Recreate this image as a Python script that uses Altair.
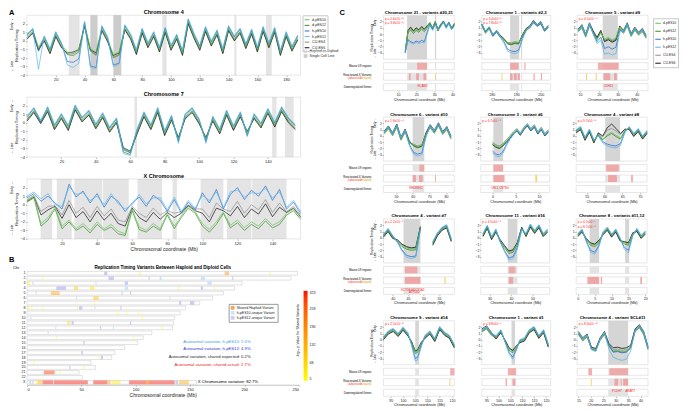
import altair as alt
import pandas as pd

FONT = "Liberation Sans"

SERIES = ["d-pES10", "d-pES12", "h-pES10", "h-pES12", "CU-ES4", "CU-ES6"]
SERIES_COLORS = ["#62c54f", "#3b8a2c", "#2b6fd0", "#5ab7ea", "#8c8c8c", "#111111"]
DRAW_ORDER = ["CU-ES4", "CU-ES6", "d-pES12", "d-pES10", "h-pES10", "h-pES12"]
SHADE_KINDS = ["Haploid vs Diploid", "Single Cell Line"]
B_KINDS = ["Shared Haploid Variant", "h-pES10-unique Variant", "h-pES12-unique Variant"]
B_KIND_COLORS = ["#f7a555", "#cde4f6", "#cccbf2"]

# ---------------- Panel A : whole-chromosome profiles ----------------
A4_X = [0,4,8,12,16,20,24,28,32,36,40,44,48,52,56,60,64,68,72,76,80,84,88,92,
        96,100,104,108,112,116,120,124,128,132,136,140,144,148,152,156,160,164,168,172,176,180,184,188]
A4_D10 = [0.6,1.3,-0.7,0.4,-1.1,0.9,-0.4,-1.3, -1.4,-1.0,2.1,-0.9,-1.3,1.6,0.3,-1.6,
          -1.3,1.7,0.6,-1.2,1.3,-0.4,0.9,-0.9, 1.4,-0.7,0.6,-1.3,2.4,0.7,-0.7,1.5,
          -0.2,1.1,-1.1,1.6,0.4,1.3,-0.5,1.2, -0.9,1.5,-0.4,1.4,-1.3,0.9,-0.8,0.5]
A4_D12 = [0.4,1.1,-0.9,0.2,-1.3,0.7,-0.6,-1.6, -1.7,-1.3,1.9,-1.1,-1.6,1.4,0.1,-1.9,
          -1.6,1.5,0.4,-1.4,1.1,-0.6,0.7,-1.1, 1.2,-0.9,0.4,-1.5,2.2,0.5,-0.9,1.3,
          -0.4,0.9,-1.3,1.4,0.2,1.1,-0.7,1.0, -1.1,1.3,-0.6,1.2,-1.5,0.7,-1.0,0.3]
A4_H10 = [0.7,1.4,-1.2,0.5,-1.0,1.0,-0.3,-2.4, -2.5,-2.1,2.2,-2.9,-3.1,1.7,0.4,-2.8,
          -2.6,1.8,0.7,-1.1,1.4,-0.3,1.0,-0.8, 1.5,-0.6,0.7,-1.2,2.5,0.8,-0.6,1.6,
          -0.1,1.2,-1.0,1.7,0.5,1.4,-0.4,1.3, -0.8,1.6,-0.3,1.5,-1.2,1.0,-0.7,0.6]
A4_H12 = [0.8,1.5,-3.3,0.6,-0.9,1.1,-0.2,-2.8, -3.1,-2.6,2.3,-3.1,-3.2,1.8,0.5,-3.0,
          -2.7,1.9,0.8,-1.0,1.5,-0.2,1.1,-0.7, 1.6,-0.5,0.8,-1.1,2.6,0.9,-0.5,1.7,
          0.0,1.3,-0.9,1.8,0.6,1.5,-0.3,1.4, -0.7,1.7,-0.2,1.6,-1.1,1.1,-0.6,0.7]
A4_CU4 = [0.3,1.0,-1.0,0.1,-1.4,0.6,-0.7,-1.5, -1.5,-1.1,1.8,-1.2,-1.7,1.3,0.0,-2.0,
          -1.7,1.4,0.3,-1.5,1.0,-0.7,0.6,-1.2, 1.1,-1.0,0.3,-1.6,2.1,0.4,-1.0,1.2,
          -0.5,0.8,-1.4,1.3,0.1,1.0,-0.8,0.9, -1.2,1.2,-0.7,1.1,-1.6,0.6,-1.1,0.2]
A4_CU6 = [0.2,0.9,-1.1,0.0,-1.5,0.5,-0.8,-1.4, -1.3,-1.0,1.7,-1.0,-1.4,1.2,-0.1,-1.7,
          -1.4,1.3,0.2,-1.6,0.9,-0.8,0.5,-1.3, 1.0,-1.1,0.2,-1.7,2.0,0.3,-1.1,1.1,
          -0.6,0.7,-1.5,1.2,0.0,0.9,-0.9,0.8, -1.3,1.1,-0.8,1.0,-1.7,0.5,-1.2,0.1]
A4_SHADE = [(29, 36.5, "Haploid vs Diploid"), (44, 49, "Single Cell Line"), (60, 65.5, "Single Cell Line"),
            (94, 97, "Haploid vs Diploid"), (144, 145.5, "Haploid vs Diploid"), (166, 170, "Haploid vs Diploid")]
A4_TICKS = [20, 40, 60, 80, 100, 120, 140, 160, 180]

A7_X = [0,4,8,12,16,20,24,28,32,36,40,44,48,52,56,60,64,68,72,76,
        80,84,88,92,96,100,104,108,112,116,120,124,128,132,136,140,144,148,152,156]
A7_D10 = [0.6,1.6,0.3,1.7,-0.4,0.9,-0.5,1.9,0.5,1.3, -0.3,1.0,-0.7,0.4,-3.1,-3.4,-0.9,1.1,-0.4,1.6,
          -1.1,0.7,-1.9,0.9,1.6,0.3,-1.9,0.6,-0.9,1.3, -0.5,1.1,-1.2,0.9,-0.2,1.5,-0.1,1.7,0.4,-0.4]
A7_D12 = [0.4,1.4,0.1,1.5,-0.6,0.7,-0.7,1.7,0.3,1.1, -0.5,0.8,-0.9,0.2,-3.4,-3.7,-1.1,0.9,-0.6,1.4,
          -1.3,0.5,-2.1,0.7,1.4,0.1,-2.1,0.4,-1.1,1.1, -0.7,0.9,-1.4,0.7,-0.4,1.3,-0.3,1.5,0.2,-0.6]
A7_H10 = [0.7,1.7,0.1,1.8,-0.3,1.0,-0.4,2.0,0.6,1.4, -0.2,1.1,-0.6,0.5,-3.0,-3.5,-0.8,1.2,-0.3,1.7,
          -1.0,0.8,-2.2,1.0,1.7,0.4,-2.2,0.7,-0.8,1.4, -0.4,1.2,-1.5,1.0,-0.1,1.6,0.0,1.8,0.5,-0.3]
A7_H12 = [0.8,1.8,0.3,1.9,-0.2,1.1,-0.3,2.1,0.7,1.5, -0.1,1.2,-0.5,0.6,-3.6,-3.8,-0.7,1.3,-0.2,1.8,
          -0.9,0.9,-2.4,1.1,1.8,0.5,-2.4,0.8,-0.7,1.5, -0.3,1.3,-1.6,1.1,0.0,1.7,0.1,1.9,0.6,-0.2]
A7_CU4 = [0.3,1.3,0.0,1.4,-0.7,0.6,-0.8,1.6,0.2,1.0, -0.6,0.7,-1.0,0.1,-3.2,-3.5,-1.2,0.8,-0.7,1.3,
          -1.4,0.4,-1.8,0.6,1.3,0.0,-1.8,0.3,-1.2,1.0, -0.8,0.8,-1.1,0.6,-0.5,1.2,-0.4,1.4,0.1,-0.7]
A7_CU6 = [0.2,1.2,-0.1,1.3,-0.8,0.5,-0.9,1.5,0.1,0.9, -0.7,0.6,-1.1,0.0,-2.9,-3.3,-1.3,0.7,-0.8,1.2,
          -1.5,0.3,-1.7,0.5,1.2,-0.1,-1.7,0.2,-1.3,0.9, -0.9,0.7,-1.0,0.5,-0.6,1.1,-0.5,1.3,0.0,-0.8]
A7_SHADE = [(62.5, 64, "Haploid vs Diploid"), (142.5, 145, "Haploid vs Diploid"), (150, 155, "Haploid vs Diploid")]
A7_TICKS = [20, 40, 60, 80, 100, 120, 140]

AX_X = [0,4,8,12,16,20,24,28,32,36,40,44,48,52,56,60,64,68,72,76,
        80,84,88,92,96,100,104,108,112,116,120,124,128,132,136,140,144,148,152,156]
AX_D10 = [0.5,1.0,-2.2,-1.5,-0.3,-2.5,-1.8,-2.8,-2.2,-3.0, -2.0,-2.8,-2.3,-3.1,-3.4,-0.5,-2.6,-3.0,-2.2,-2.8,
          -1.0,-2.5,-1.3,-0.2,-0.8,-2.2,-2.9,-2.0,-0.8,-2.4, -1.8,-2.7,-2.0,-2.5,-1.6,-2.4,-2.0,-1.0,-0.5,-1.5]
AX_D12 = [0.3,0.8,-2.5,-1.8,-0.5,-2.8,-2.0,-3.0,-2.5,-3.3, -2.3,-3.0,-2.6,-3.4,-3.6,-0.7,-2.9,-3.2,-2.5,-3.0,
          -1.2,-2.8,-1.5,-0.4,-1.0,-2.5,-3.2,-2.3,-1.0,-2.7, -2.1,-3.0,-2.3,-2.8,-1.9,-2.7,-2.3,-1.2,-0.7,-1.7]
AX_H10 = [0.8,1.3,0.4,1.0,0.2,-0.5,2.4,0.9,1.6,0.2, 1.3,-0.3,1.0,0.4,-0.8,0.2,0.9,-0.2,1.1,0.5,
          -0.8,0.6,-1.0,0.3,-0.6,1.4,0.2,1.8,-0.5,1.2, 2.0,0.6,1.7,1.0,2.2,0.5,1.8,-0.5,0.3,-1.0]
AX_H12 = [1.0,1.5,0.7,1.3,0.0,-0.2,2.1,1.2,1.4,0.5, 1.0,0.0,1.3,0.1,-0.5,0.0,1.2,0.1,0.8,0.8,
          -0.6,0.9,-0.8,0.5,-0.4,1.1,0.5,1.5,-0.3,1.5, 1.7,0.9,1.4,1.3,1.9,0.8,1.5,-0.3,0.5,-0.8]
AX_CU4 = [0.6,1.1,-0.8,-0.2,-0.1,-1.2,0.5,-1.0,-0.3,-1.5, -0.2,-1.3,-0.5,-1.8,-2.0,-0.2,-1.0,-1.5,-0.4,-1.2,
          -0.7,-1.0,-0.8,0.0,-0.5,-0.5,-1.5,0.2,-0.5,-0.8, 0.4,-1.0,0.0,-0.6,0.6,-0.9,0.2,-0.8,-0.2,-1.2]
AX_CU6 = [0.4,0.9,-1.2,-0.6,-0.2,-1.6,0.0,-1.5,-0.8,-2.0, -0.7,-1.8,-1.0,-2.2,-2.5,-0.4,-1.5,-2.0,-0.9,-1.7,
          -0.9,-1.5,-1.0,-0.1,-0.7,-1.0,-2.0,-0.4,-0.7,-1.3, -0.2,-1.5,-0.5,-1.1,0.1,-1.4,-0.3,-0.9,-0.4,-1.4]
AX_SHADE = [(7.8, 14.4, "Haploid vs Diploid"), (17, 25.5, "Haploid vs Diploid"), (27, 43, "Haploid vs Diploid"),
            (43.4, 58, "Haploid vs Diploid"), (63, 77, "Haploid vs Diploid"), (83, 85.5, "Haploid vs Diploid"),
            (99, 112, "Haploid vs Diploid"), (114, 128, "Haploid vs Diploid"), (128.4, 148, "Haploid vs Diploid")]
AX_TICKS = [20, 40, 60, 80, 100, 120, 140]

# ---------------- Panel B : variant map ----------------
CHR_NAMES = ["1","2","3","4","5","6","7","8","9","10","11","12","13","14","15","16","17","18","19","20","21","22","X"]
CHR_LEN = [249,243,198,191,181,171,159,146,141,136,135,134,115,107,102,90,81,78,59,63,48,51,156]
B_SHARED = [("1",103,104.5,25),("1",182,186,180),("1",223.5,224.5,20),("2",14,15,15),("3",0.5,3,20),
            ("4",43,47,90),("4",58,62,60),("4",139,140,10),("4",172,173,10),("5",22,30,154),("6",61,66,110),
            ("7",62,63,15),("8",1,2,20),("8",4,5,15),("8",14,15,20),("8",46,47,12),("9",83,84,15),
            ("9",91,92,10),("9",102,103,12),("10",106,107,10),("11",37,40,60),("12",124,125,12),
            ("14",27,28,15),("14",98,99,10),("18",66,67,10),("19",6,7,12),("20",52,53,10),
            ("21",15.5,25.5,300),("21",30,31,20),("X",8,10,30),("X",10,14.5,130),("X",14.5,24,320),
            ("X",24.6,56,320),("X",61,74,320),("X",74,77,150),("X",78,86,40),("X",94,136,320),
            ("X",110,112,30),("X",140,149,140)]
B_H10 = [("2",122,124),("2",160,164),("3",5,6),("3",63,64),("3",166,170),("4",90,93),("5",8,9),("6",45,46),
         ("6",131,132),("8",62,63),("10",3,4),("12",26,27),("12",79,80),("13",19,20),("X",2,4),("X",136,137)]
B_H12 = [("1",71,74),("2",75,80),("2",112,113),("2",189,190),("3",90,93),("4",27,36),("4",160,162),("5",87,88),
         ("5",95,96),("7",140,142),("7",150,154),("8",48,51),("8",86,87),("11",41,43),("11",95,96),("12",67,68),
         ("15",52,53),("17",50,51.5),("18",68,70),("20",39,40),("X",5,6),("X",137,139)]
B_NOTES = ["Autosomal variation, h-pES10: 2.4%", "Autosomal variation, h-pES12: 4.9%",
           "Autosomal variation, shared expected: 0.2%", "Autosomal variation, shared actual: 2.7%"]
B_NOTE_COLORS = ["#3d9be0", "#3232d2", "#222222", "#e3241d"]
CB_VALUES = [5, 68, 132, 196, 259, 323]

# ---------------- Panel C : zoomed variant regions ----------------
C_TITLES = ["Chromosome 21 - variants #20,21", "Chromosome 1 - variants #2,3", "Chromosome 5 - variant #9",
            "Chromosome 6 - variant #10", "Chromosome 3 - variant #6", "Chromosome 4 - variant #8",
            "Chromosome 4 - variant #7", "Chromosome 11 - variant #16", "Chromosome 8 - variants #11,12",
            "Chromosome 9 - variant #14", "Chromosome 1 - variant #1", "Chromosome 4 - variant SCL#11"]
C_DOMAINS = [[2,41],[176,204],[8.5,46],[42.5,85],[-2.5,12.3],[52,72],
             [37,60],[26,58],[-0.5,20.5],[92,121],[93,122],[14.5,43]]
C_TICKS = [[10,20,30,40],[180,190,200],[10,20,30,40],[50,60,70,80],[0,5,10],[55,60,65,70],
           [40,45,50,55],[30,40,50],[0,5,10,15,20],[95,100,105,110,115,120],[95,100,105,110,115,120],
           [15,20,25,30,35,40]]
C_PVALS = [["p = 2.6x10⁻¹⁸⁵", "p = 3.8x10⁻¹⁸³"], ["p = 3.4x10⁻¹⁰⁵", "p = 7.8x10⁻⁶⁸"], ["p = 4.5x10⁻¹⁵⁴"],
           ["p = 1.8x10⁻¹¹⁰"], ["p = 6.7x10⁻⁵⁰"], ["p = 9.7x10⁻⁵⁸"],
           ["p = 2.2x10⁻⁷⁶"], ["p = 4.5x10⁻⁶⁰"], ["p = 4.5x10⁻⁶²", "p = 8.7x10⁻⁵⁶"],
           ["p = 2.2x10⁻¹⁰⁷"], ["p = 8.8x10⁻⁵⁶"], ["p = 8.3x10⁻¹⁰⁶"]]

P1_X = [14,15.5,17,18.5,20,21.5,23,24.5,26,27.5,29,30.5,32,33.5,35,36.5,38,39.5,41]
P1_D10 = [-2.6,0.4,0.9,0.3,0.8,0.5,1.0,0.6,1.1,1.9,1.0,2.0,0.7,1.6,2.1,1.3,1.9,1.0,1.7]
P1_D12 = [-2.7,0.2,0.7,0.1,0.6,0.3,0.8,0.4,0.9,1.7,0.8,1.8,0.5,1.4,1.9,1.1,1.7,0.8,1.5]
P1_H10 = [-2.8,-0.9,-1.2,-1.4,-1.1,-1.3,-1.0,-1.2,0.2,1.6,0.7,1.7,0.9,1.3,2.1,1.0,1.9,1.0,1.4]
P1_H12 = [-3.0,-1.1,-1.4,-1.6,-1.3,-1.5,-1.3,-1.4,-0.1,1.4,0.6,1.5,0.7,1.1,1.9,0.9,1.7,0.8,1.2]
P1_CU4 = [-2.9,0.5,1.0,0.4,0.9,0.6,1.1,0.7,1.2,1.7,0.8,1.8,0.5,1.4,1.8,1.1,1.6,0.7,1.5]
P1_CU6 = [-3.0,0.6,1.1,0.5,1.0,0.7,1.2,0.8,1.3,1.8,1.0,2.0,0.7,1.6,2.0,1.3,1.8,0.9,1.7]
P1_GRAY = [(15,26),(30.3,31)]
P1_LR = [(20.5,26)]
P1_XR = [(16,17,"adv"),(20,21.5,"adv"),(24,25.5,"adv"),(30.5,31,"del")]
P1_GENES = [("NCAM2",23.5,0)]

P2_X = [176,177.5,179,180.5,182,183.5,185,186.5,188,189.5,191,192.5,194,195.5,197,198.5,200,201.5,203]
P2_D10 = [1.4,0.2,0.9,-0.3,0.4,-0.4,-0.9,-1.4,-1.5,-1.3,-1.4,-0.3,0.7,1.1,1.9,1.3,1.7,0.5,1.1]
P2_D12 = [1.5,0.3,1.0,-0.2,0.5,-0.3,-0.8,-1.6,-1.7,-1.5,-1.6,-0.2,0.8,1.2,2.0,1.4,1.8,0.6,1.2]
P2_H10 = [1.6,0.4,1.1,-0.3,0.4,-0.5,-1.2,-2.4,-2.7,-2.8,-2.5,-0.6,0.6,1.0,1.9,1.3,1.7,0.5,1.1]
P2_H12 = [1.7,0.5,1.2,-0.1,0.6,-0.4,-1.4,-2.7,-3.0,-3.1,-2.8,-0.9,0.5,1.1,2.1,1.5,1.9,0.7,1.3]
P2_CU4 = [1.3,0.1,0.8,-0.4,0.3,-0.5,-1.0,-1.3,-1.4,-1.2,-1.3,-0.4,0.6,1.0,1.8,1.2,1.6,0.4,1.0]
P2_CU6 = [1.6,0.4,1.1,-0.1,0.6,-0.2,-0.7,-1.5,-1.6,-1.4,-1.5,-0.1,0.9,1.3,2.2,1.5,2.0,0.7,1.4]
P2_GRAY = [(187.5,191.2),(192,192.4)]
P2_LR = [(187.5,191),(193.3,193.8)]
P2_XR = [(184,184.4,"del"),(187.5,188.5,"adv"),(189,190.2,"adv"),(190.6,191.5,"adv"),(197,197.5,"adv"),(200,200.5,"adv")]
P2_GENES = []

P3_X = [9,11,13,15,17,19,21,23,25,27,29,31,33,35,37,39,41,43,45]
P3_D10 = [0.4,1.1,-0.4,1.4,0.1,-0.9,0.2,-0.8,-0.5,-0.9,-0.6,1.1,0.2,1.4,-0.3,0.7,-0.1,0.5,-0.6]
P3_D12 = [0.5,1.2,-0.3,1.5,0.2,-0.8,0.3,-1.0,-0.7,-1.1,-0.8,1.0,0.3,1.5,-0.2,0.8,0.0,0.6,-0.5]
P3_H10 = [0.6,1.3,-0.2,1.6,0.1,-1.2,-0.5,-2.3,-2.0,-2.4,-2.1,0.6,0.4,1.6,-0.1,0.9,0.1,0.7,-0.4]
P3_H12 = [0.7,1.4,-0.1,1.7,0.0,-1.5,-1.0,-3.2,-3.0,-3.3,-3.1,0.3,0.5,1.7,0.0,1.0,0.2,0.8,-0.3]
P3_CU4 = [0.3,1.0,-0.5,1.3,0.3,-0.7,0.4,-1.1,-0.8,-1.2,-0.9,0.9,0.1,1.3,-0.4,0.6,-0.2,0.4,-0.7]
P3_CU6 = [0.8,1.5,0.0,1.8,0.5,-0.5,0.6,-1.2,-0.9,-1.3,-1.0,1.3,0.6,1.8,0.1,1.1,0.3,0.9,-0.2]
P3_GRAY = [(22,30)]
P3_LR = [(19.5,30.5)]
P3_XR = [(13.2,13.8,"del"),(18.3,18.9,"del"),(22.5,26,"adv"),(28,29.5,"adv")]
P3_GENES = [("CDH10",25,0)]

P4_X = [43,45.5,48,50.5,53,55.5,58,60.5,63,65.5,68,70.5,73,75.5,78,80.5,83]
P4_D10 = [0.4,1.2,0.1,1.5,-0.6,0.7,-1.1,-1.4,-1.7,-1.5,0.2,1.4,0.5,1.7,0.3,1.1,-0.4]
P4_D12 = [0.5,1.3,0.2,1.6,-0.5,0.8,-1.0,-1.6,-1.9,-1.7,0.3,1.5,0.6,1.8,0.4,1.2,-0.3]
P4_H10 = [0.6,1.4,0.3,1.7,-0.4,0.9,-1.3,-2.6,-2.9,-2.7,0.0,1.6,0.7,1.9,0.5,1.3,-0.2]
P4_H12 = [0.7,1.5,0.4,1.8,-0.3,1.0,-1.5,-2.9,-3.2,-3.0,-0.2,1.7,0.8,2.0,0.6,1.4,-0.1]
P4_CU4 = [0.3,1.1,0.0,1.4,-0.7,0.6,-1.2,-1.3,-1.6,-1.4,0.1,1.3,0.4,1.6,0.2,1.0,-0.5]
P4_CU6 = [0.8,1.6,0.5,1.9,-0.2,1.1,-0.8,-1.5,-1.8,-1.6,0.5,1.8,0.9,2.1,0.7,1.5,0.0]
P4_GRAY = [(60,67)]
P4_LR = [(64,67)]
P4_XR = [(60,62,"adv"),(63.8,66,"adv"),(73.5,74,"adv")]
P4_GENES = [("KHDRBS2",62,0)]

P5_X = [0,0.75,1.5,2.25,3,3.75,4.5,5.25,6,6.75,7.5,8.25,9,9.75,10.5,11.25,12]
P5_D10 = [-1.1,-1.5,-1.7,-1.3,-0.7,-0.1,0.6,1.1,0.4,1.3,1.9,1.1,1.7,0.6,1.3,0.3,0.9]
P5_D12 = [-1.3,-1.7,-1.9,-1.5,-0.9,-0.3,0.4,0.9,0.2,1.1,1.7,0.9,1.5,0.4,1.1,0.1,0.7]
P5_H10 = [-2.4,-2.9,-3.0,-2.5,-1.3,-0.4,0.3,0.9,0.2,1.1,1.7,0.9,1.5,0.4,1.1,0.1,0.7]
P5_H12 = [-2.7,-3.2,-3.3,-2.8,-1.6,-0.6,0.2,1.0,0.3,1.2,1.9,1.0,1.6,0.5,1.2,0.2,0.9]
P5_CU4 = [-1.0,-1.4,-1.6,-1.2,-0.6,0.0,0.7,1.2,0.5,1.4,2.0,1.2,1.8,0.7,1.4,0.4,1.0]
P5_CU6 = [-1.4,-1.8,-2.0,-1.6,-1.0,-0.4,0.3,0.8,0.1,1.0,1.6,0.8,1.4,0.3,1.0,0.0,0.6]
P5_GRAY = [(0.2,2.3)]
P5_LR = [(0.2,2.3)]
P5_XR = [(0.2,2.6,"adv"),(9.2,9.6,"del")]
P5_GENES = [("CHL1 CNTN4",1.6,0)]

P6_X = [52,53.25,54.5,55.75,57,58.25,59.5,60.75,62,63.25,64.5,65.75,67,68.25,69.5,70.75,72]
P6_D10 = [0.8,1.3,-0.4,0.9,-0.8,0.3,-0.5,0.2,0.6,0.1,-0.3,0.9,1.3,0.2,1.0,-0.2,0.7]
P6_D12 = [0.7,1.2,-0.5,0.8,-0.9,0.2,-0.6,0.0,0.4,-0.1,-0.5,0.8,1.2,0.1,0.9,-0.3,0.6]
P6_H10 = [0.9,1.4,-0.3,1.0,-0.7,0.1,-0.9,-1.3,-1.5,-1.6,-1.2,0.7,1.4,0.3,1.1,-0.1,0.8]
P6_H12 = [1.0,1.5,-0.2,1.1,-0.6,0.0,-1.1,-1.6,-1.8,-1.9,-1.5,0.5,1.5,0.4,1.2,0.0,0.9]
P6_CU4 = [0.6,1.1,-0.6,0.7,-1.0,0.4,-0.2,0.9,1.2,0.8,0.2,1.0,1.1,0.0,0.8,-0.4,0.5]
P6_CU6 = [0.5,1.0,-0.7,0.6,-1.1,0.5,0.0,1.3,1.9,1.2,0.4,1.1,1.0,-0.1,0.7,-0.5,0.4]
P6_GRAY = [(60.2,64.4)]
P6_LR = [(60.5,64)]
P6_XR = [(61,63.5,"adv"),(67.5,68,"adv")]
P6_GENES = []

P7_X = [37,38.5,40,41.5,43,44.5,46,47.5,49,53,54.5,56,57.5,59]
P7_SEG = [0,0,0,0,0,0,0,0,0,1,1,1,1,1]
P7_D10 = [0.4,1.3,0.2,-0.5,-1.2,-1.6,-1.8,-1.7,1.6,-0.8,0.6,1.5,1.9,-0.3]
P7_D12 = [0.3,1.2,0.1,-0.6,-1.4,-1.8,-2.0,-1.9,1.4,-0.9,0.5,1.4,1.8,-0.4]
P7_H10 = [0.5,1.4,0.3,-0.6,-1.9,-2.8,-3.0,-2.9,1.5,-0.7,0.7,1.6,2.0,-0.2]
P7_H12 = [0.6,1.5,0.4,-0.7,-2.1,-3.1,-3.3,-3.1,1.3,-0.6,0.8,1.7,2.1,-0.1]
P7_CU4 = [0.2,1.1,0.0,-0.4,-1.1,-1.5,-1.7,-1.6,1.7,-1.0,0.4,1.3,1.7,-0.5]
P7_CU6 = [0.1,1.0,-0.1,-0.3,-1.0,-1.4,-1.6,-1.5,1.8,-1.2,0.3,1.2,1.6,-0.6]
P7_GRAY = [(43.5,49)]
P7_LR = [(44,48)]
P7_XR = [(44,49,"adv"),(56.8,57.2,"del")]
P7_GENES = [("KCTD8  GUCY1A1",46.5,0),("ATP10D",47,1)]

P8_X = [27,29,31,33,35,37,39,41,43,45,47,49,51,53,55,57]
P8_D10 = [0.5,1.8,0.0,1.2,-0.5,-1.4,-2.3,-2.1,-0.9,1.5,0.5,2.0,1.0,1.9,0.5,1.2]
P8_D12 = [0.4,1.7,-0.1,1.1,-0.6,-1.6,-2.5,-2.3,-1.1,1.4,0.4,1.9,0.9,1.8,0.4,1.1]
P8_H10 = [0.6,1.9,0.1,1.3,-0.6,-2.0,-3.2,-3.0,-1.5,1.4,0.6,2.1,1.1,2.0,0.6,1.3]
P8_H12 = [0.7,2.0,0.2,1.4,-0.7,-2.2,-3.5,-3.3,-1.8,1.3,0.7,2.2,1.2,2.1,0.7,1.4]
P8_CU4 = [0.3,1.6,-0.2,1.0,-0.4,-1.3,-2.2,-2.0,-0.8,1.6,0.3,1.8,0.8,1.7,0.3,1.0]
P8_CU6 = [0.2,1.5,-0.3,0.9,-0.3,-1.2,-2.1,-1.9,-0.7,1.7,0.2,1.7,0.7,1.6,0.2,0.9]
P8_GRAY = [(38.5,43)]
P8_LR = [(39,42)]
P8_XR = [(39,41,"adv")]
P8_GENES = []

P9_X = [0,1.25,2.5,3.75,5,6.25,7.5,8.75,10,11.25,12.5,13.75,15,16.25,17.5,18.75,20]
P9_D10 = [0.5,1.2,-0.3,-1.0,-1.2,-0.6,0.8,1.5,0.4,1.2,-0.2,-0.8,-1.0,0.6,1.3,0.2,0.9]
P9_D12 = [0.4,1.1,-0.4,-1.2,-1.4,-0.8,0.7,1.4,0.3,1.1,-0.3,-1.0,-1.2,0.5,1.2,0.1,0.8]
P9_H10 = [0.6,1.3,-0.5,-2.0,-2.3,-1.2,0.9,1.6,0.5,1.3,-0.1,-1.5,-2.0,0.4,1.4,0.3,1.0]
P9_H12 = [0.7,1.4,-0.6,-2.3,-2.6,-1.4,1.0,1.7,0.6,1.4,0.0,-1.8,-2.4,0.3,1.5,0.4,1.1]
P9_CU4 = [0.3,1.0,-0.2,-0.9,-1.1,-0.5,0.6,1.3,0.2,1.0,-0.4,-0.7,-0.9,0.7,1.1,0.0,0.7]
P9_CU6 = [0.2,0.9,-0.1,-0.8,-1.0,-0.4,0.5,1.2,0.1,0.9,-0.5,-0.6,-0.8,0.8,1.0,-0.1,0.6]
P9_GRAY = [(3.5,6.3),(14,15.2)]
P9_LR = []
P9_XR = [(2.8,6.3,"adv"),(6.8,7.2,"adv"),(18.5,19,"adv")]
P9_GENES = []

P10_X = [92,94,96,98,100,102,103.5,105,106,107.5,109,111,113,115,117,119,121]
P10_D10 = [0.3,1.2,1.6,0.8,1.8,0.9,-0.5,-2.0,-1.8,-0.6,0.5,1.2,0.0,1.9,1.0,0.5,-1.0]
P10_D12 = [0.2,1.1,1.5,0.7,1.7,0.8,-0.6,-2.2,-2.0,-0.8,0.4,1.1,-0.1,1.8,0.9,0.4,-1.1]
P10_H10 = [0.4,1.3,1.7,0.9,1.9,1.0,-0.7,-3.0,-2.8,-0.9,0.6,1.3,0.1,2.0,1.1,0.6,-0.9]
P10_H12 = [0.5,1.4,1.8,1.0,2.0,1.1,-0.9,-3.4,-3.2,-1.1,0.7,1.4,0.2,2.1,1.2,0.7,-0.8]
P10_CU4 = [0.1,1.0,1.4,0.6,1.6,0.7,-0.4,-1.9,-1.7,-0.5,0.3,1.0,-0.2,1.7,0.8,0.3,-1.2]
P10_CU6 = [0.0,0.9,1.3,0.5,1.5,0.6,-0.3,-1.8,-1.6,-0.4,0.2,0.9,-0.3,1.6,0.7,0.2,-1.3]
P10_GRAY = [(105,106.5)]
P10_LR = [(119.3,121)]
P10_XR = [(119,119.4,"del")]
P10_GENES = []

P11_X = [93,95,97,99,101,103,104.5,106,107.5,109,111,113,115,117,119,121]
P11_D10 = [1.4,1.9,0.9,0.4,1.4,-0.4,-1.5,-1.9,-1.2,-0.2,0.1,1.4,1.9,0.5,1.4,-0.9]
P11_D12 = [1.3,1.8,0.8,0.3,1.3,-0.5,-1.7,-2.1,-1.4,-0.3,0.0,1.3,1.8,0.4,1.3,-1.0]
P11_H10 = [1.5,2.0,1.0,0.5,1.5,-0.5,-2.0,-2.8,-1.6,-0.1,0.2,1.5,2.0,0.6,1.5,-0.8]
P11_H12 = [1.6,2.1,1.1,0.6,1.6,-0.6,-2.3,-3.1,-1.8,0.0,0.3,1.6,2.1,0.7,1.6,-0.7]
P11_CU4 = [1.2,1.7,0.7,0.2,1.2,-0.3,-1.4,-1.8,-1.1,-0.4,-0.1,1.2,1.7,0.3,1.2,-1.1]
P11_CU6 = [1.7,2.2,1.2,0.1,1.1,-0.2,-1.3,-1.7,-1.0,-0.5,-0.2,1.1,1.6,0.2,1.1,-1.2]
P11_GRAY = [(105.5,107)]
P11_LR = [(104,107.5)]
P11_XR = [(103,103.6,"adv"),(106,107.2,"adv")]
P11_GENES = []

P12_X = [15,16.75,18.5,20.25,22,23.75,25.5,27.25,29,30.75,32.5,34.25,36,37.75,39.5,41.25,43]
P12_D10 = [1.0,0.0,0.6,-1.4,-1.6,0.1,1.0,-0.9,-1.8,-1.7,-1.9,-1.8,-1.2,1.4,2.1,1.0,-1.4]
P12_D12 = [0.9,-0.1,0.5,-1.5,-1.7,0.0,0.9,-1.0,-1.9,-1.8,-2.0,-1.9,-1.3,1.3,2.0,0.9,-1.5]
P12_H10 = [1.1,0.1,0.7,-1.5,-1.8,0.2,1.1,-0.9,-2.0,-1.9,-2.1,-2.0,-1.4,1.5,2.2,1.1,-1.3]
P12_H12 = [1.2,0.2,0.8,-1.6,-1.9,0.1,1.2,-1.5,-2.8,-3.1,-3.3,-3.1,-1.8,1.4,2.3,1.2,-1.2]
P12_CU4 = [0.8,-0.2,0.4,-1.3,-1.5,-0.1,0.8,-0.8,-1.6,-1.5,-1.7,-1.6,-1.1,1.2,1.9,0.8,-1.6]
P12_CU6 = [1.3,0.3,0.9,-1.2,-1.4,0.3,1.3,-0.6,-1.3,-1.2,-1.4,-1.3,-0.9,1.7,2.4,1.3,-1.1]
P12_GRAY = [(27,35)]
P12_LR = [(19,20.5),(27.5,35)]
P12_XR = [(20,20.4,"del"),(29.5,31,"adv"),(32,32.4,"adv"),(33,35,"adv")]
P12_GENES = [("PCDH7",30.5,0),("ARAP2",35.8,0)]

# ---------------- assemble tables from the lists ----------------
A_DATA = {
    "A4": dict(zip(SERIES, [A4_D10, A4_D12, A4_H10, A4_H12, A4_CU4, A4_CU6])),
    "A7": dict(zip(SERIES, [A7_D10, A7_D12, A7_H10, A7_H12, A7_CU4, A7_CU6])),
    "AX": dict(zip(SERIES, [AX_D10, AX_D12, AX_H10, AX_H12, AX_CU4, AX_CU6])),
}


def pack(x, d10, d12, h10, h12, c4, c6, gray, lr, xr, genes, seg=None):
    return dict(x=x, s=dict(zip(SERIES, [d10, d12, h10, h12, c4, c6])), gray=gray, lr=lr, xr=xr,
                genes=genes, seg=seg)


C_PANELS = [
    pack(P1_X, P1_D10, P1_D12, P1_H10, P1_H12, P1_CU4, P1_CU6, P1_GRAY, P1_LR, P1_XR, P1_GENES),
    pack(P2_X, P2_D10, P2_D12, P2_H10, P2_H12, P2_CU4, P2_CU6, P2_GRAY, P2_LR, P2_XR, P2_GENES),
    pack(P3_X, P3_D10, P3_D12, P3_H10, P3_H12, P3_CU4, P3_CU6, P3_GRAY, P3_LR, P3_XR, P3_GENES),
    pack(P4_X, P4_D10, P4_D12, P4_H10, P4_H12, P4_CU4, P4_CU6, P4_GRAY, P4_LR, P4_XR, P4_GENES),
    pack(P5_X, P5_D10, P5_D12, P5_H10, P5_H12, P5_CU4, P5_CU6, P5_GRAY, P5_LR, P5_XR, P5_GENES),
    pack(P6_X, P6_D10, P6_D12, P6_H10, P6_H12, P6_CU4, P6_CU6, P6_GRAY, P6_LR, P6_XR, P6_GENES),
    pack(P7_X, P7_D10, P7_D12, P7_H10, P7_H12, P7_CU4, P7_CU6, P7_GRAY, P7_LR, P7_XR, P7_GENES, P7_SEG),
    pack(P8_X, P8_D10, P8_D12, P8_H10, P8_H12, P8_CU4, P8_CU6, P8_GRAY, P8_LR, P8_XR, P8_GENES),
    pack(P9_X, P9_D10, P9_D12, P9_H10, P9_H12, P9_CU4, P9_CU6, P9_GRAY, P9_LR, P9_XR, P9_GENES),
    pack(P10_X, P10_D10, P10_D12, P10_H10, P10_H12, P10_CU4, P10_CU6, P10_GRAY, P10_LR, P10_XR, P10_GENES),
    pack(P11_X, P11_D10, P11_D12, P11_H10, P11_H12, P11_CU4, P11_CU6, P11_GRAY, P11_LR, P11_XR, P11_GENES),
    pack(P12_X, P12_D10, P12_D12, P12_H10, P12_H12, P12_CU4, P12_CU6, P12_GRAY, P12_LR, P12_XR, P12_GENES),
]

ONE = pd.DataFrame({"k": [0]})


def line_df(xs, sd, seg=None):
    rows = []
    for s in DRAW_ORDER:
        for i, (x, y) in enumerate(zip(xs, sd[s])):
            rows.append({"x": x, "y": y, "series": s, "seg": seg[i] if seg else 0})
    return pd.DataFrame(rows)


def txt(text, x, y, size, color="#000000", weight="normal", align="left", baseline="alphabetic", angle=0):
    return alt.Chart(ONE).mark_text(
        text=text, fontSize=size, color=color, fontWeight=weight, align=align,
        baseline=baseline, angle=angle, font=FONT
    ).encode(x=alt.value(x), y=alt.value(y))


# legends: orient "none" positions are relative to the first panel's plot origin
A_LEGEND = alt.Legend(orient="none", legendX=276, legendY=0, title=None, symbolType="stroke",
                      symbolSize=22, symbolStrokeWidth=1, labelFontSize=3.6, rowPadding=0.6, padding=1.5,
                      strokeColor="#c8c8c8", labelOffset=2)
SHADE_LEGEND = alt.Legend(orient="none", legendX=276, legendY=33, title=None, symbolType="square",
                          symbolSize=14, symbolFillColor="#7a7a7a", symbolStrokeWidth=0, labelFontSize=3.6,
                          rowPadding=0.8, padding=1, labelOffset=2)
C_LEGEND = alt.Legend(orient="none", legendX=270, legendY=3, title=None, symbolType="stroke",
                      symbolSize=30, symbolStrokeWidth=1, labelFontSize=3.4, rowPadding=2, padding=1.5,
                      strokeColor="#c8c8c8", labelOffset=1.5)
B_LEGEND = alt.Legend(orient="none", legendX=202, legendY=289, title=None, symbolType="square",
                      symbolSize=14, symbolStrokeWidth=0, labelFontSize=3.6, rowPadding=1, padding=2,
                      strokeColor="#9a9a9a", labelOffset=2)
CB_LEGEND = alt.Legend(orient="none", legendX=277, legendY=276, title=None, direction="vertical",
                       gradientLength=90, gradientThickness=4, gradientStrokeWidth=0, labelFontSize=3.6,
                       values=CB_VALUES, labelOffset=2)

A_W, A_H = 274, 60


def a_panel(title, xs, sd, shades, xmax, ticks, xtitle, letter):
    xsc = alt.Scale(domain=[0, xmax], nice=False, zero=False)
    ysc = alt.Scale(domain=[-4, 3], nice=False, zero=False)
    if xtitle:
        xax = alt.Axis(values=ticks, title=xtitle, titleFontSize=5, titleFontWeight="normal", titlePadding=1,
                       labelFontSize=4, tickSize=1.5, labelPadding=1, domain=False, grid=False)
    else:
        xax = alt.Axis(values=ticks, title=None, labelFontSize=4, tickSize=1.5, labelPadding=1,
                       domain=False, grid=False)
    yax = alt.Axis(values=[-4, -3, -2, -1, 0, 1, 2], title="Replication Timing", titleFontSize=4,
                   titleFontWeight="normal", titlePadding=1, labelFontSize=4, tickSize=1.5, labelPadding=1,
                   domain=False, grid=False)
    shade = alt.Chart(pd.DataFrame(shades, columns=["start", "end", "kind"])).mark_rect(color="#7a7a7a").encode(
        x=alt.X("start:Q", scale=xsc, axis=xax), x2="end:Q",
        opacity=alt.Opacity("kind:N", scale=alt.Scale(domain=SHADE_KINDS, range=[0.2, 0.38]),
                            legend=SHADE_LEGEND))
    lines = alt.Chart(line_df(xs, sd)).mark_line(strokeWidth=0.7).encode(
        x=alt.X("x:Q", scale=xsc, axis=xax),
        y=alt.Y("y:Q", scale=ysc, axis=yax),
        stroke=alt.Stroke("series:N", scale=alt.Scale(domain=SERIES, range=SERIES_COLORS), legend=A_LEGEND))
    layers = [shade, lines,
              txt(title, A_W / 2, -1.5, 5.5, weight="bold", align="center"),
              txt("Early →", -15, 9, 3.4, angle=270, align="center", baseline="middle"),
              txt("← Late", -15, A_H - 9, 3.4, angle=270, align="center", baseline="middle")]
    if letter:
        layers.append(txt(letter, -18, -0.5, 7.5, weight="bold"))
    return alt.layer(*layers).properties(width=A_W, height=A_H)


def b_panel():
    W, H = 272, 114
    xsc = alt.Scale(domain=[0, 250], nice=False, zero=False)
    ysc = alt.Scale(domain=CHR_NAMES, paddingInner=0.25, paddingOuter=0.1)
    xax = alt.Axis(values=[0, 50, 100, 150, 200, 250], title="Chromosomal coordinate (Mb)", titleFontSize=5,
                   titleFontWeight="normal", titlePadding=1, labelFontSize=4, tickSize=1.5, labelPadding=1,
                   domain=True, domainColor="#888888", domainWidth=0.5, grid=False)
    yax = alt.Axis(title=None, labelFontSize=3.6, ticks=False, labelPadding=2, domain=False, grid=False)
    chr_df = pd.DataFrame({"chr": CHR_NAMES, "start": [0] * len(CHR_NAMES), "end": CHR_LEN})
    sh_df = pd.DataFrame(B_SHARED, columns=["chr", "start", "end", "p"])
    un_df = pd.DataFrame([(c, a, b, B_KINDS[1]) for c, a, b in B_H10] +
                         [(c, a, b, B_KINDS[2]) for c, a, b in B_H12], columns=["chr", "start", "end", "kind"])

    def X():
        return alt.X("start:Q", scale=xsc, axis=xax)

    def Y():
        return alt.Y("chr:N", scale=ysc, axis=yax)

    bars = alt.Chart(chr_df).mark_rect(fill="white", stroke="#c4c4c4", strokeWidth=0.5).encode(
        x=X(), x2="end:Q", y=Y())
    shared = alt.Chart(sh_df).mark_rect(fillOpacity=0.45).encode(
        x=X(), x2="end:Q", y=Y(),
        color=alt.Color("p:Q", scale=alt.Scale(domain=[5, 164, 323], range=["#ffff00", "#ff9900", "#ff0000"]),
                        legend=CB_LEGEND))
    unique = alt.Chart(un_df).mark_rect().encode(
        x=X(), x2="end:Q", y=Y(),
        fill=alt.Fill("kind:N", scale=alt.Scale(domain=B_KINDS, range=B_KIND_COLORS), legend=B_LEGEND))
    layers = [bars, shared, unique,
              txt("Replication Timing Variants Between Haploid and Diploid Cells", W / 2, -2, 4.6,
                  weight="bold", align="center"),
              txt("B", -18, -9, 7.5, weight="bold"),
              txt("Chr", -14, -2, 4),
              txt("-log₁₀ p-Value for Shared Variants", 271, 60, 3.6, angle=270, align="center",
                  baseline="middle"),
              txt("X Chromosome variation: 82.7%", 171, 111.6, 4.2, baseline="middle")]
    for j, (note, col) in enumerate(zip(B_NOTES, B_NOTE_COLORS)):
        layers.append(txt(note, 224, 72 + 7.6 * j, 4.2, color=col, align="right"))
    return alt.layer(*layers).properties(width=W, height=H, view=alt.ViewBackground(strokeOpacity=0))


C_W = [71, 69, 71]
C_H, C_TH = 44, 7
RED = "#ff2020"


def c_panel(i, col):
    p = C_PANELS[i]
    W = C_W[col]
    xsc = alt.Scale(domain=C_DOMAINS[i], nice=False, zero=False)
    ysc = alt.Scale(domain=[-4, 3], nice=False, zero=False)
    if col == 0:
        yax = alt.Axis(values=[-3, -2, -1, 0, 1, 2], title="Replication Timing", titleFontSize=3.4,
                       titleFontWeight="normal", titlePadding=4, labelFontSize=3.4, tickSize=1.5,
                       labelPadding=0.5, domain=False, grid=False)
    else:
        yax = alt.Axis(values=[-3, -2, -1, 0, 1, 2], title=None, labelFontSize=3.4, tickSize=1.5,
                       labelPadding=0.5, domain=False, grid=False)
    gray = pd.DataFrame(p["gray"], columns=["start", "end"])
    shade = alt.Chart(gray).mark_rect(color="#d5d5d5").encode(
        x=alt.X("start:Q", scale=xsc, axis=None), x2="end:Q")
    lines = alt.Chart(line_df(p["x"], p["s"], p["seg"])).mark_line(strokeWidth=0.8).encode(
        x=alt.X("x:Q", scale=xsc, axis=None), y=alt.Y("y:Q", scale=ysc, axis=yax),
        color=alt.Color("series:N", scale=alt.Scale(domain=SERIES, range=SERIES_COLORS), legend=C_LEGEND),
        detail="seg:N")
    layers = [shade, lines, txt(C_TITLES[i], W / 2, -1.5, 4.3, weight="bold", align="center")]
    for j, pv in enumerate(C_PVALS[i]):
        layers.append(txt(pv, 1.5, 4.5 + 4.5 * j, 3.2, color=RED))
    if col == 0:
        layers.append(txt("Early →", -8.5, 6, 2.8, angle=270, align="center", baseline="middle"))
        layers.append(txt("← Late", -8.5, C_H - 6, 2.8, angle=270, align="center", baseline="middle"))
    if i == 0:
        layers.append(txt("C", -44, -0.5, 7.5, weight="bold"))
    main = alt.layer(*layers).properties(width=W, height=C_H)

    def track(kind):
        last = kind == "genes"
        if last:
            xax = alt.Axis(values=C_TICKS[i], title="Chromosomal coordinate (Mb)", titleFontSize=3.8,
                           titleFontWeight="normal", titlePadding=1, labelFontSize=3.6, tickSize=1.5,
                           labelPadding=0.5, domain=False, grid=False)
        else:
            xax = None
        lay = [alt.Chart(gray).mark_rect(color="#e3e3e3").encode(
            x=alt.X("start:Q", scale=xsc, axis=xax), x2="end:Q")]
        if kind == "lr":
            df = pd.DataFrame(p["lr"], columns=["start", "end"])
            lay.append(alt.Chart(df).mark_rect(color="#f09a9a", opacity=0.8).encode(
                x=alt.X("start:Q", scale=xsc, axis=xax), x2="end:Q"))
            if col == 0:
                lay.append(txt("Mouse LR regions", -12, C_TH / 2, 2.8, align="right", baseline="middle"))
        elif kind == "xr":
            df = pd.DataFrame(p["xr"], columns=["start", "end", "kind"])
            for k, colr in (("adv", "#f09a9a"), ("del", "#f2cf5c")):
                lay.append(alt.Chart(df[df["kind"] == k]).mark_rect(color=colr, opacity=0.85).encode(
                    x=alt.X("start:Q", scale=xsc, axis=xax), x2="end:Q"))
            if col == 0:
                lay.append(txt("Reactivated-X Variants", -12, C_TH / 2 - 1.6, 2.8, align="right",
                               baseline="middle"))
                lay.append(txt("delayed)", -12, C_TH / 2 + 1.7, 2.8, color="#e0a000", align="right",
                               baseline="middle"))
                lay.append(txt("(advanced/", -22, C_TH / 2 + 1.7, 2.8, color="#ff3030", align="right",
                               baseline="middle"))
        else:
            for name, pos, row in p["genes"]:
                gdf = pd.DataFrame({"name": [name], "pos": [pos]})
                lay.append(alt.Chart(gdf).mark_text(color=RED, fontSize=2.9, baseline="middle", font=FONT).encode(
                    x=alt.X("pos:Q", scale=xsc, axis=xax), y=alt.value(2.2 + 2.8 * row), text="name:N"))
            if col == 0:
                lay.append(txt("Downregulated Genes", -12, C_TH / 2, 2.8, align="right", baseline="middle"))
        return alt.layer(*lay).properties(width=W, height=C_TH)

    return alt.vconcat(main, track("lr"), track("xr"), track("genes"), spacing=1.5)


a4 = a_panel("Chromosome 4", A4_X, A_DATA["A4"], A4_SHADE, 190, A4_TICKS, None, "A")
a7 = a_panel("Chromosome 7", A7_X, A_DATA["A7"], A7_SHADE, 159, A7_TICKS, None, None)
ax = a_panel("X Chromosome", AX_X, A_DATA["AX"], AX_SHADE, 156, AX_TICKS, "Chromosomal coordinate (Mb)", None)
left = alt.vconcat(alt.vconcat(a4, a7, ax, spacing=9), b_panel(), spacing=4)

rows = [alt.hconcat(*[c_panel(3 * r + c, c) for c in range(3)], spacing=18.5) for r in range(4)]
right = alt.vconcat(*rows, spacing=10)

chart = alt.hconcat(left, right, spacing=23).resolve_scale(color="independent").properties(
    padding=0
).configure(font=FONT).configure_view(stroke="#cfcfcf", strokeWidth=0.5).configure_axis(
    labelFont=FONT, titleFont=FONT, labelColor="#222222", titleColor="#222222", tickColor="#777777",
    tickWidth=0.5
).configure_legend(labelFont=FONT, titleFont=FONT, labelColor="#222222")

chart.save("out.html", embed_options={"renderer": "svg", "actions": False})
